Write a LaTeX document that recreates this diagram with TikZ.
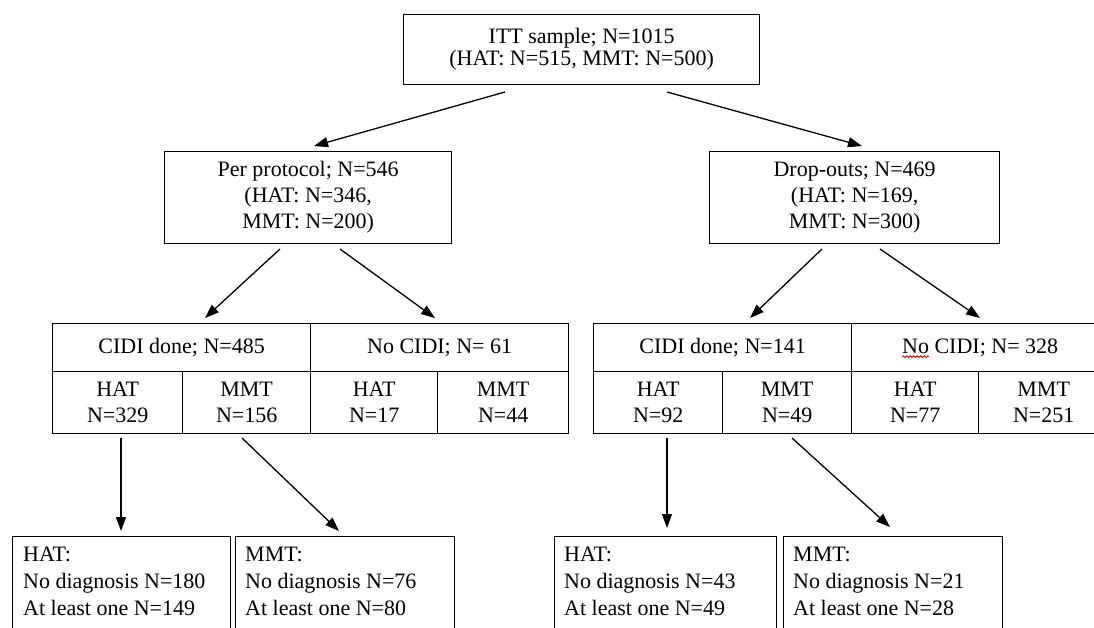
\documentclass[tikz,border=0pt]{standalone}
\usepackage{fontspec}
\setmainfont{Liberation Serif}
\usetikzlibrary{arrows.meta,decorations.pathmorphing}
\begin{document}
\begin{tikzpicture}[x=1pt,y=-1pt,
  every node/.style={font=\fontsize{22}{26}\selectfont, inner sep=0pt},
  bx/.style={draw=black, line width=1.3pt, anchor=north west, align=center},
  cell/.style={draw=black, line width=1.3pt, anchor=north west, align=center},
  arr/.style={-{Triangle[length=14pt,width=10pt]}, line width=1.3pt}]
\useasboundingbox (0,0) rectangle (1094,627);
\clip (0,0) rectangle (1094,627);

% level 1 and 2 boxes
\node[bx, minimum width=356pt, minimum height=70pt, font=\fontsize{22}{22}\selectfont] (itt) at (403,14) {ITT sample; N=1015\\(HAT: N=515, MMT: N=500)};
\node[bx, minimum width=287pt, minimum height=92pt] (pp) at (164,151) {Per protocol; N=546\\(HAT: N=346,\\MMT: N=200)};
\node[bx, minimum width=290pt, minimum height=92pt] (do) at (709,151) {Drop-outs; N=469\\(HAT: N=169,\\MMT: N=300)};

% left table
\node[cell, minimum width=258pt, minimum height=48pt] (lcd) at (52,323) {CIDI done; N=485};
\node[cell, minimum width=258pt, minimum height=48pt] (lnc) at (310,323) {No CIDI; N= 61};
\node[cell, minimum width=130pt, minimum height=62pt] (lch) at (52,371) {HAT\\N=329};
\node[cell, minimum width=128pt, minimum height=62pt] (lcm) at (182,371) {MMT\\N=156};
\node[cell, minimum width=127pt, minimum height=62pt] (lnh) at (310,371) {HAT\\N=17};
\node[cell, minimum width=131pt, minimum height=62pt] (lnm) at (437,371) {MMT\\N=44};

% right table
\node[cell, minimum width=258pt, minimum height=48pt] (rcd) at (593,323) {CIDI done; N=141};
\node[cell, minimum width=257pt, minimum height=48pt] (rnc) at (851,323) {No CIDI; N= 328};
\node[cell, minimum width=129pt, minimum height=62pt] (rch) at (593,371) {HAT\\N=92};
\node[cell, minimum width=129pt, minimum height=62pt] (rcm) at (722,371) {MMT\\N=49};
\node[cell, minimum width=127pt, minimum height=62pt] (rnh) at (851,371) {HAT\\N=77};
\node[cell, minimum width=130pt, minimum height=62pt] (rnm) at (978,371) {MMT\\N=251};
% spell-check squiggle under "No"
\draw[red!85!black, line width=0.8pt, decorate, decoration={snake, amplitude=0.9pt, segment length=3.5pt}]
  ([shift={(-78,9)}]rnc.center) -- ++(27,0);

% bottom boxes
\node[bx, minimum width=218pt, minimum height=120pt] (bl1) at (12,536) {};
\node[bx, minimum width=219pt, minimum height=120pt] (bl2) at (235,536) {};
\node[bx, minimum width=222pt, minimum height=120pt] (br1) at (554,536) {};
\node[bx, minimum width=219pt, minimum height=120pt] (br2) at (783,536) {};
\tikzset{btxt/.style={anchor=north west, align=left, font=\fontsize{22}{27}\selectfont}}
\node[btxt] (tl1) at ([xshift=11pt,yshift=-11pt]bl1.north west) {HAT:\\No diagnosis N=180\\At least one N=149};
\node[btxt] (tl2) at ([xshift=10pt,yshift=-11pt]bl2.north west) {MMT:\\No diagnosis N=76\\At least one N=80};
\node[btxt] (tr1) at ([xshift=10pt,yshift=-11pt]br1.north west) {HAT:\\No diagnosis N=43\\At least one N=49};
\node[btxt] (tr2) at ([xshift=10pt,yshift=-11pt]br2.north west) {MMT:\\No diagnosis N=21\\At least one N=28};

% arrow end points
\coordinate (a1s) at (505,92);  \coordinate (a1e) at (314,146);
\coordinate (a2s) at (667,92);  \coordinate (a2e) at (862,146);
\coordinate (a3s) at (280,249); \coordinate (a3e) at (205,318);
\coordinate (a4s) at (340,249); \coordinate (a4e) at (435,318);
\coordinate (a5s) at (822,249); \coordinate (a5e) at (750,318);
\coordinate (a6s) at (880,249); \coordinate (a6e) at (980,318);
\coordinate (a7s) at (121,438); \coordinate (a7e) at (121,531);
\coordinate (a8s) at (242,438); \coordinate (a8e) at (339,531);
\coordinate (a9s) at (667,438); \coordinate (a9e) at (667,528);
\coordinate (a10s) at (792,438); \coordinate (a10e) at (890,527);

\foreach \i in {1,...,10} { \draw[arr] (a\i s) -- (a\i e); }
\end{tikzpicture}
\end{document}
